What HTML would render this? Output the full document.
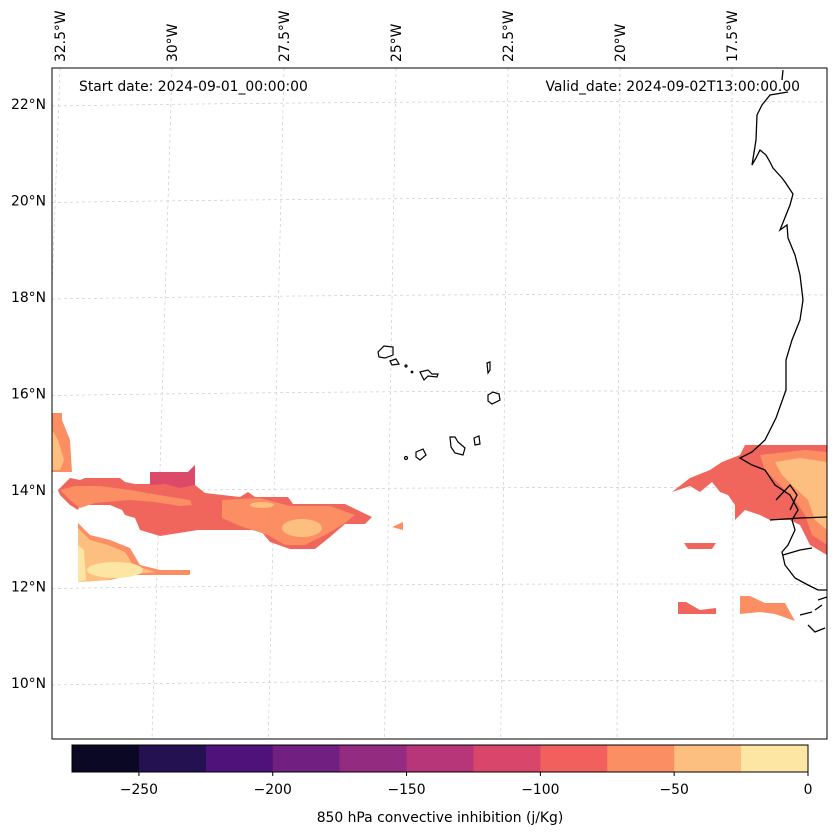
<!DOCTYPE html>
<html><head><meta charset="utf-8"><style>
body{margin:0;background:#fff;}
svg{display:block;font-family:"DejaVu Sans","Liberation Sans",sans-serif;}
</style></head><body>
<svg id="fig" width="837" height="836" viewBox="0 0 837 836">
<defs><clipPath id="mapclip"><rect x="52" y="68" width="775" height="671"/></clipPath></defs>
<rect x="0" y="0" width="837" height="836" fill="#fff"/>
<g id="grid" stroke="#ccc" stroke-width="0.7" stroke-dasharray="3,3" fill="none" clip-path="url(#mapclip)"></g>
<g clip-path="url(#mapclip)">
  <polygon fill="#fb8e63" points="52,413 62,413 62,420 70,440 72,472 52,472"/>
  <polygon fill="#fdbf80" points="52,430 58,440 64,460 60,470 52,470"/>
  <polygon fill="#f1665c" points="58,490 70,478 80,480 85,478 120,478 125,482 135,484 150,484 150,472 188,472 195,465 195,485 205,493 240,497 248,492 255,497 288,497 293,504 345,504 372,517 365,524 345,524 330,537 315,549 290,549 270,542 260,530 198,530 160,536 140,530 135,518 125,515 122,510 110,505 80,505 78,510 70,505 60,495"/>
  <polygon fill="#dd4a69" points="150,472 188,472 195,465 195,485 180,488 165,484 150,485"/>
  <polygon fill="#fb8e63" points="60,490 75,486 100,486 130,490 165,496 190,500 192,505 180,506 155,502 130,500 95,503 80,508 70,500"/>
  <polygon fill="#fb8e63" points="222,500 260,498 290,506 330,506 355,515 345,523 325,535 305,545 285,545 268,535 240,526 222,518"/>
  <ellipse fill="#fdbf80" cx="302" cy="528" rx="20" ry="9"/>
  <ellipse fill="#fdbf80" cx="262" cy="505" rx="12" ry="3"/>
  <polygon fill="#fb8e63" points="392,527 403,522 403,530"/>
  <polygon fill="#fb8e63" points="78,523 90,535 110,540 130,548 140,565 160,570 190,570 190,575 130,575 110,580 78,582"/>
  <polygon fill="#fdbf80" points="78,528 90,540 108,545 125,552 133,565 155,572 125,575 108,580 78,582"/>
  <ellipse fill="#fde6a3" cx="115" cy="570" rx="28" ry="8"/>
  <polygon fill="#fde6a3" points="78,545 84,550 86,580 78,582"/>
  <polygon fill="#f1665c" points="722,462 740,455 745,445 827,445 827,555 810,545 800,525 790,520 770,520 760,515 745,510 735,520 735,505 728,495 720,492 712,482 700,492 690,486 672,492 690,478 710,470"/>
  <polygon fill="#fb8e63" points="760,455 805,450 827,452 827,545 812,535 805,515 795,500 780,485 765,470"/>
  <polygon fill="#fdbf80" points="775,462 800,458 827,462 827,530 815,520 808,500 795,488 782,475"/>
  <polygon fill="#f1665c" points="684,543 716,543 712,549 688,549"/>
  <polygon fill="#f1665c" points="678,602 686,602 700,610 716,608 716,614 678,614"/>
  <polygon fill="#fb8e63" points="740,596 750,596 765,603 785,603 795,621 775,614 760,612 740,614"/>
</g>
<g fill="none" stroke="#000" stroke-width="1.3" clip-path="url(#mapclip)">
  <path d="M783,70 L782,80 M788,92 L770,95 L762,105 L757,115 L756,140 L752,165 L756,158 L760,150 L766,155 L770,162 L773,168 L782,178 L785,182 L793,194 L790,205 L786,215 L780,230 L787,225 L788,238 L795,255 L800,275 L803,300 L800,320 L792,340 L786,360 L786,390 L776,418 L765,440 L752,452 L740,458 L752,465 L765,470 L775,485 L790,495 L798,510 L792,520 L795,530 L788,545 L782,552 L785,565 L795,578 L808,585 L818,590 L827,590"/>
  <path d="M770,520 L800,518 L827,517"/>
  <path d="M776,500 L790,485 L797,495 L790,510"/>
  <path d="M783,555 L800,550 L812,548"/>
  <path d="M800,615 L812,612 M815,610 L822,605 M808,625 L815,632 L825,628 M818,600 L827,597"/>
</g>
<g fill="none" stroke="#000" stroke-width="1.2">
  <path d="M378,352 L384,346 L393,347 L393,355 L385,358 L379,357 Z"/>
  <path d="M390,361 L396,359 L399,364 L392,365 Z"/>
  <circle cx="406" cy="366" r="1"/><circle cx="412" cy="372" r="0.8"/>
  <path d="M420,372 L428,370 L432,374 L438,374 L437,377 L428,376 L424,380 Z"/>
  <path d="M487,363 L490,362 L490,370 L488,373 Z"/>
  <path d="M488,395 L493,392 L499,394 L500,400 L492,404 L488,401 Z"/>
  <path d="M450,437 L455,437 L458,442 L465,448 L463,455 L455,453 L451,447 Z"/>
  <path d="M474,438 L479,436 L480,444 L475,445 Z"/>
  <path d="M416,452 L423,449 L426,455 L420,460 L416,457 Z"/>
  <circle cx="406" cy="458" r="1.5"/>
</g>
<rect x="52" y="68" width="775" height="671" fill="none" stroke="#000" stroke-width="1"/>
<g id="latlabels" font-size="13.9" fill="#000" text-anchor="end"></g>
<g id="lonlabels" font-size="13.9" fill="#000"></g>
<text x="79" y="91" font-size="13.9">Start date: 2024-09-01_00:00:00</text>
<text x="800" y="91" font-size="13.9" text-anchor="end">Valid_date: 2024-09-02T13:00:00.00</text>
<g id="colorbar"></g>
<text x="440" y="822" font-size="13.9" text-anchor="middle">850 hPa convective inhibition (j/Kg)</text>
</svg>
<script>
var levels = [-275,-250,-225,-200,-175,-150,-125,-100,-75,-50,-25,0];
var levelColors = ["#0a0822","#231151","#4f127b","#711f81","#932b80","#b63679","#d8466c","#f1605d","#fb8e63","#fdbf80","#fde6a3"];
var cbTicks = [-250,-200,-150,-100,-50,0];
var latTicks = [22,20,18,16,14,12,10];
var lonTicks = [-32.5,-30,-27.5,-25,-22.5,-20,-17.5];
var NS="http://www.w3.org/2000/svg";
function mk(t,a){var e=document.createElementNS(NS,t);for(var k in a)e.setAttribute(k,a[k]);return e;}
function cbX(v){return 72+(v+275)/275*736;}
function latY(l){return 490-(l-14)*48.25;}
function lonXTop(l){return 172+(l+30)*44.8;}
function lonXBot(l){return 152+(l+30)*46.5;}
var cb=document.getElementById('colorbar');
for(var i=0;i<levelColors.length;i++){
  var r=mk('rect',{x:cbX(levels[i]),y:745,width:cbX(levels[i+1])-cbX(levels[i])+0.5,height:27,fill:levelColors[i]});
  
  
  cb.appendChild(r);
}
var fr=mk('rect',{x:72,y:745,width:736,height:27,fill:'none',stroke:'#000','stroke-width':1});


cb.appendChild(fr);
cbTicks.forEach(function(v){
  var x=cbX(v);
  var t=mk('line',{x1:x,x2:x,y1:772,y2:776,stroke:'#000'});
  
  
  cb.appendChild(t);
  var tx=mk('text',{x:x,y:794,'font-size':13.9,'text-anchor':'middle'});
  tx.textContent=(v<0?'\u2212'+(-v):String(v));
  
  
  cb.appendChild(tx);
});
var g=document.getElementById('grid');
var ll=document.getElementById('latlabels');
latTicks.forEach(function(l){
  var y=latY(l);
  var p=mk('path',{d:'M52,'+(y+2)+' Q440,'+(y-4)+' 827,'+(y-2)});
  
  
  g.appendChild(p);
  var t=mk('text',{x:46,y:y+5});
  t.textContent=l+'\u00b0N';
  
  
  ll.appendChild(t);
});
var lo=document.getElementById('lonlabels');
lonTicks.forEach(function(l){
  var line=mk('line',{x1:lonXTop(l),y1:68,x2:lonXBot(l),y2:739});
  
  
  g.appendChild(line);
  var xx=(l===-32.5)?65:lonXTop(l)+5;
  var t=mk('text',{x:0,y:0,transform:'translate('+xx+',62) rotate(-90)'});
  t.textContent=(-l)+'\u00b0W';
  
  
  lo.appendChild(t);
});
</script>
</body></html>
